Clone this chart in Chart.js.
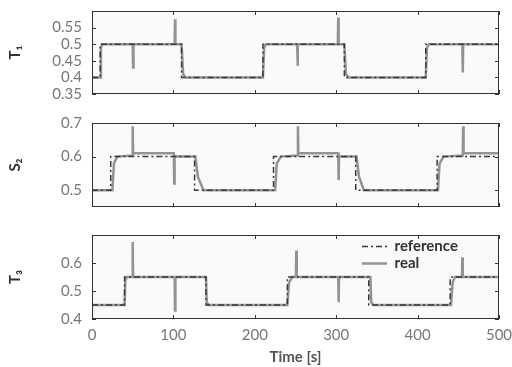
<!DOCTYPE html>
<html>
<head>
<meta charset="utf-8">
<script src="https://cdn.jsdelivr.net/npm/chart.js@4.4.1/dist/chart.umd.min.js"></script>
<style>
  html, body { margin: 0; padding: 0; background: #fff; }
  #wrap { position: relative; width: 512px; height: 367px; }
  canvas { position: absolute; left: 0; }
</style>
</head>
<body>
<div id="wrap">
  <canvas id="c1" width="512" height="105" style="top:0"></canvas>
  <canvas id="c2" width="512" height="105" style="top:110px"></canvas>
  <canvas id="c3" width="512" height="147" style="top:220px"></canvas>
</div>
<script>
const xTicks = [0, 100, 200, 300, 400, 500];

// T1
const t1Ticks = [0.35, 0.4, 0.45, 0.5, 0.55];
const t1RefTime = [0, 10, 110, 210, 310, 410, 500];
const t1RefVal = [0.4, 0.5, 0.4, 0.5, 0.4, 0.5, 0.5];
const t1RealTime = [0, 10, 11, 13, 50, 50.5, 51, 101.5, 102, 102.5, 110, 112, 115,
  210, 211.5, 214, 252, 252.5, 253, 302, 302.5, 303, 310, 312, 315,
  410, 411.5, 414, 455, 455.5, 456, 500];
const t1RealVal = [0.4, 0.4, 0.49, 0.5, 0.5, 0.43, 0.5, 0.5, 0.575, 0.5, 0.5, 0.41, 0.4,
  0.4, 0.49, 0.5, 0.5, 0.435, 0.5, 0.5, 0.58, 0.5, 0.5, 0.41, 0.4,
  0.4, 0.49, 0.5, 0.5, 0.415, 0.5, 0.5];

// S2
const s2Ticks = [0.5, 0.6, 0.7];
const s2RefTime = [0, 23, 126, 223, 324, 424, 500];
const s2RefVal = [0.5, 0.6, 0.5, 0.6, 0.5, 0.6, 0.6];
const s2RealTime = [0, 25, 27, 31, 49.5, 50, 50.5, 100.5, 101, 101.5, 127, 130, 137,
  225, 227, 232, 252.5, 253, 253.5, 302.5, 303, 303.5, 325, 328, 334,
  425, 427, 432, 455.5, 456, 456.5, 500];
const s2RealVal = [0.5, 0.5, 0.58, 0.6, 0.603, 0.69, 0.61, 0.61, 0.52, 0.6, 0.6, 0.54, 0.5,
  0.5, 0.58, 0.6, 0.603, 0.69, 0.61, 0.61, 0.53, 0.6, 0.6, 0.54, 0.5,
  0.5, 0.58, 0.6, 0.603, 0.69, 0.61, 0.61];

// T3
const t3Ticks = [0.4, 0.5, 0.6];
const t3RefTime = [0, 40, 140, 240, 340, 440, 500];
const t3RefVal = [0.45, 0.55, 0.45, 0.55, 0.45, 0.55, 0.55];
const t3RealTime = [0, 40, 41, 43, 49.5, 50, 50.5, 101.5, 102, 102.5, 140, 141, 143,
  240, 242, 246, 250.5, 251, 251.5, 302.5, 303, 303.5, 342, 343, 346,
  441, 443, 446, 454.5, 455, 455.5, 500];
const t3RealVal = [0.45, 0.45, 0.54, 0.55, 0.55, 0.675, 0.55, 0.55, 0.43, 0.55, 0.55, 0.46, 0.45,
  0.45, 0.53, 0.55, 0.55, 0.645, 0.55, 0.55, 0.46, 0.55, 0.55, 0.46, 0.45,
  0.45, 0.53, 0.55, 0.55, 0.62, 0.55, 0.55];

Chart.defaults.font.family = 'Lato, "Open Sans", sans-serif';
Chart.defaults.color = '#777';

function pts(times, vals) {
  return times.map((t, i) => ({ x: t, y: vals[i] }));
}

// plot box, background and inward ticks like the original figure
const framePlugin = {
  id: 'frame',
  beforeDraw(chart) {
    const { ctx, chartArea: a } = chart;
    ctx.save();
    ctx.fillStyle = '#fafafa';
    ctx.fillRect(a.left, a.top, a.width, a.height);
    ctx.restore();
  },
  afterDraw(chart, args, opts) {
    const { ctx, chartArea: a, scales } = chart;
    ctx.save();
    ctx.strokeStyle = '#333';
    ctx.lineWidth = 1;
    ctx.strokeRect(a.left + 0.5, a.top + 0.5, a.width - 1, a.height - 1);
    ctx.beginPath();
    xTicks.forEach((v) => {
      const px = Math.round(scales.x.getPixelForValue(v)) + 0.5;
      ctx.moveTo(px, a.top);
      ctx.lineTo(px, a.top + 4);
      ctx.moveTo(px, a.bottom);
      ctx.lineTo(px, a.bottom - 4);
    });
    opts.yTicks.forEach((v) => {
      const py = Math.round(scales.y.getPixelForValue(v)) + 0.5;
      ctx.moveTo(a.left, py);
      ctx.lineTo(a.left + 4, py);
      ctx.moveTo(a.right, py);
      ctx.lineTo(a.right - 4, py);
    });
    ctx.stroke();
    ctx.restore();
  },
};

// move the legend into the upper right of the plot
const legendPlace = {
  id: 'legendPlace',
  afterLayout(chart) {
    const lg = chart.legend;
    if (!lg || !chart.options.plugins.legend.display) return;
    const w = lg.width, h = lg.height;
    lg.left = 360;
    lg.right = lg.left + w;
    lg.top = chart.chartArea.top + 2;
    lg.bottom = lg.top + h;
  },
};

function makeChart(id, cfg) {
  const showX = !!cfg.showX;
  return new Chart(document.getElementById(id), {
    type: 'line',
    data: {
      datasets: [
        {
          label: 'reference',
          data: pts(cfg.refTime, cfg.refVal),
          borderColor: '#3a3a3a',
          borderWidth: 1.5,
          borderDash: [6, 3, 2, 3],
          stepped: true,
          pointRadius: 0,
        },
        {
          label: 'real',
          data: pts(cfg.realTime, cfg.realVal),
          borderColor: '#939393',
          borderWidth: 2.5,
          pointRadius: 0,
          tension: 0,
        },
      ],
    },
    options: {
      responsive: false,
      animation: false,
      devicePixelRatio: 1,
      layout: { padding: { top: cfg.padTop, right: 13, bottom: cfg.padBottom, left: 0 } },
      scales: {
        x: {
          type: 'linear',
          min: 0,
          max: 500,
          display: showX,
          afterBuildTicks: (s) => { s.ticks = xTicks.map((v) => ({ value: v })); },
          afterFit: (s) => {
            if (!showX) return;
            s.height = 48;
            s.paddingLeft = 0;
            s.paddingRight = 0;
          },
          grid: { display: false, drawTicks: false },
          border: { display: false },
          ticks: { padding: 7, color: '#777', font: { size: 15 }, maxRotation: 0, autoSkip: false },
          title: {
            display: true,
            text: 'Time [s]',
            color: '#555',
            font: { size: 15, weight: 'bold' },
            padding: { top: 0, bottom: 1 },
          },
        },
        y: {
          min: cfg.yMin,
          max: cfg.yMax,
          afterBuildTicks: (s) => { s.ticks = cfg.yTicks.map((v) => ({ value: v })); },
          afterFit: (s) => { s.width = 92; s.paddingTop = 0; s.paddingBottom = 0; },
          grid: { display: false, drawTicks: false },
          border: { display: false },
          ticks: { padding: 10, color: '#777', font: { size: 15 }, autoSkip: false, callback: (v) => String(v) },
          title: {
            display: true,
            text: cfg.yTitle,
            color: '#333',
            font: { size: 15, weight: 'bold' },
            padding: { top: 6, bottom: 0 },
          },
        },
      },
      plugins: {
        frame: { yTicks: cfg.yTicks },
        tooltip: { enabled: false },
        legend: {
          display: showX,
          position: 'chartArea',
          align: 'start',
          labels: {
            usePointStyle: true,
            pointStyleWidth: 25,
            padding: 2,
            color: '#333',
            font: { size: 15, weight: 'bold' },
            // keep the dataset's line dash in the legend sample
            generateLabels: (chart) => chart.data.datasets.map((ds, i) => ({
              text: ds.label,
              datasetIndex: i,
              hidden: false,
              pointStyle: 'line',
              fillStyle: 'rgba(0,0,0,0)',
              strokeStyle: ds.borderColor,
              lineWidth: ds.borderWidth,
              lineDash: ds.borderDash || [],
              fontColor: '#333',
            })),
          },
        },
      },
    },
    plugins: [framePlugin, legendPlace],
  });
}

makeChart('c1', {
  refTime: t1RefTime, refVal: t1RefVal, realTime: t1RealTime, realVal: t1RealVal,
  yMin: 0.35, yMax: 0.6, yTicks: t1Ticks, yTitle: 'T₁', padTop: 11, padBottom: 11,
});
makeChart('c2', {
  refTime: s2RefTime, refVal: s2RefVal, realTime: s2RealTime, realVal: s2RealVal,
  yMin: 0.45, yMax: 0.7, yTicks: s2Ticks, yTitle: 'S₂', padTop: 13, padBottom: 8,
});
makeChart('c3', {
  refTime: t3RefTime, refVal: t3RefVal, realTime: t3RealTime, realVal: t3RealVal,
  yMin: 0.4, yMax: 0.7, yTicks: t3Ticks, yTitle: 'T₃', padTop: 15, padBottom: 0, showX: true,
});
</script>
</body>
</html>
